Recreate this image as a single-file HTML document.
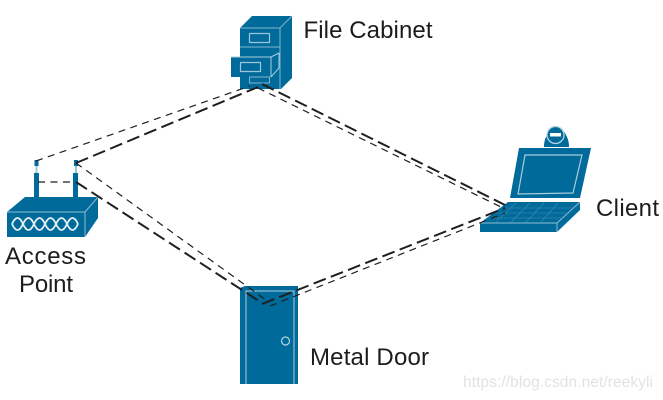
<!DOCTYPE html>
<html><head><meta charset="utf-8"><style>
html,body{margin:0;padding:0;background:#fff;width:663px;height:400px;overflow:hidden}
svg{display:block;filter:blur(.35px)}
text{font-family:"Liberation Sans",sans-serif}
</style></head><body>
<svg width="663" height="400" viewBox="0 0 663 400">
<!-- Cabinet -->
<g stroke-linejoin="round">
<polygon points="252,16 292,16 292,78 281,89 240,89 240,28" fill="#006a9b"/>
<path d="M240,28H280V89M240,47H280M280,28L292,16" fill="none" stroke="#7fb4cd" stroke-width="1"/>
<rect x="249.500" y="33.500" width="20" height="9" fill="none" stroke="#9cc5d8" stroke-width="1.200"/>
<polygon points="231,57 271,57 279,53 279,68 271,77 231,77" fill="#006a9b"/>
<path d="M231,57H271V77M271,57L279,53V68L271,77" fill="none" stroke="#a8cddd" stroke-width="1"/>
<rect x="240.500" y="62.500" width="20" height="9" fill="none" stroke="#9cc5d8" stroke-width="1.200"/>
<rect x="249.500" y="77" width="20" height="6" fill="none" stroke="#7fb4cd" stroke-width="1"/>
</g>
<!-- Access Point -->
<rect x="35.500" y="166" width="2" height="8" fill="#9cc5d8"/>
<rect x="75" y="166" width="2" height="8" fill="#9cc5d8"/>
<rect x="34" y="173" width="5" height="24" fill="#006a9b"/>
<rect x="73" y="173" width="5" height="24" fill="#006a9b"/>
<rect x="34.500" y="160" width="4" height="6" fill="#006a9b"/>
<rect x="74" y="160" width="4" height="6" fill="#006a9b"/>
<polygon points="7,212 25,197 98,197 98,218 85,237 7,237" fill="#006a9b"/>
<path d="M7,212H85V237M85,212L98,197" fill="none" stroke="#8fbdd2" stroke-width="1"/>
<g fill="none" stroke="#e6eff4" stroke-width="1.800">
<path d="M12,224Q17.500,212 23,224T34,224T45,224T56,224T67,224T78,224"/>
<path d="M12,224Q17.500,236 23,224T34,224T45,224T56,224T67,224T78,224"/>
</g>
<!-- Laptop -->
<path d="M544,147C544,140 546,137 548,133A10,10 0 0 1 565,133C567,137 569,140 569,147Z" fill="#006a9b"/>
<circle cx="555.500" cy="135" r="8.500" fill="#006a9b" stroke="#b5d4e2" stroke-width="1.300"/>
<rect x="550" y="133" width="11" height="3.500" fill="#fff"/>
<polygon points="519,148 591,148 580,198 510,198" fill="#006a9b"/>
<polygon points="525,155 582,155 573,193 518,194" fill="#006a9b" stroke="#a8cddd" stroke-width="1.200"/>
<polygon points="508,202 580,202 580,210 557,232 480,232 480,223" fill="#006a9b"/>
<path d="M480,223H557V232M557,223L580,202" fill="none" stroke="#8fbdd2" stroke-width="1"/>
<g stroke="#3f8db0" stroke-width=".6" fill="none"><path d="M501,208H574M494,213H568M487,218H563M516,203L496,222M530,203L511,222M544,203L526,222M558,203L541,222"/></g>
<!-- Door -->
<polygon points="245,286 298,286 298,384 240,384 240,288" fill="#006a9b"/>
<path d="M246,384V291H294V384" fill="none" stroke="#8fbdd2" stroke-width="1.200"/>
<circle cx="285.500" cy="341" r="4" fill="none" stroke="#b5d4e2" stroke-width="1.200"/>
<!-- Links -->
<g fill="none" stroke="#1f1f1f">
<g stroke-width="1.200" stroke-dasharray="7 5.500">
<path d="M36,161L250,86"/>
<path d="M258,88L503,208"/>
<path d="M76,163L266,300"/>
<path d="M270,306L505,213"/>
<path d="M38,182H75"/>
</g>
<g stroke-width="2" stroke-dasharray="13 5.500">
<path d="M76,163L258,87"/>
<path d="M262,84L505,205"/>
<path d="M76,182L262,303"/>
<path d="M262,304L505,208"/>
</g>
</g>
<!-- Labels -->
<g font-size="24" fill="#1c1c1c">
<text x="303.500" y="38" textLength="129">File Cabinet</text>
<text x="596" y="216" textLength="63">Client</text>
<text x="5" y="264" textLength="81">Access</text>
<text x="19" y="292" textLength="54">Point</text>
<text x="310" y="365" textLength="119">Metal Door</text>
</g>
<text x="463" y="387" font-size="15.500" fill="#e2e2e2" textLength="190">https://blog.csdn.net/reekyli</text>
</svg>
</body></html>
